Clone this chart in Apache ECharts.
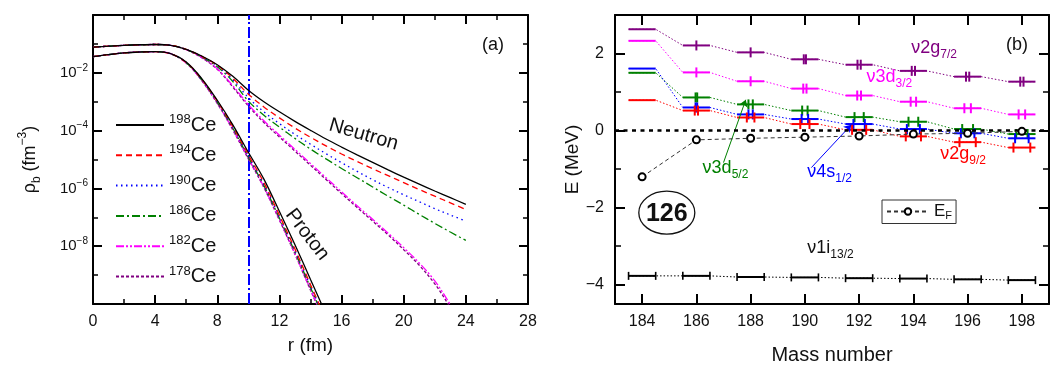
<!DOCTYPE html>
<html>
<head>
<meta charset="utf-8">
<script src="https://cdn.jsdelivr.net/npm/echarts@6/dist/echarts.min.js"></script>
<style>
  html, body { margin: 0; padding: 0; background: #fff; }
  #chart { width: 1059px; height: 365px; }
</style>
</head>
<body>
<div id="chart"></div>
<script>
// ---------- panel (a): density profiles, log10(rho / fm^-3) ----------
const radius = [0,1,2,3,4,5,6,7,8,9,10,11,12,13,14,15,16,17,18,19,20,21,22,23,24];

const neutron198 = [-1.11,-1.08,-1.05,-1.03,-1.02,-1.05,-1.19,-1.42,-1.72,-2.12,-2.60,-3.00,-3.35,-3.68,-3.99,-4.29,-4.57,-4.84,-5.10,-5.36,-5.61,-5.85,-6.09,-6.32,-6.55];
const neutron194 = [-1.11,-1.08,-1.05,-1.03,-1.02,-1.05,-1.19,-1.43,-1.74,-2.19,-2.74,-3.18,-3.56,-3.91,-4.23,-4.53,-4.81,-5.07,-5.32,-5.56,-5.80,-6.04,-6.27,-6.50,-6.73];
const neutron190 = [-1.11,-1.08,-1.05,-1.03,-1.02,-1.05,-1.19,-1.44,-1.76,-2.24,-2.86,-3.35,-3.76,-4.13,-4.47,-4.80,-5.11,-5.41,-5.70,-5.97,-6.22,-6.46,-6.70,-6.92,-7.13];
const neutron186 = [-1.11,-1.08,-1.05,-1.03,-1.02,-1.05,-1.20,-1.45,-1.79,-2.30,-2.98,-3.47,-3.88,-4.27,-4.64,-4.98,-5.31,-5.63,-5.95,-6.27,-6.58,-6.90,-7.21,-7.51,-7.80];
const neutron182 = [-1.11,-1.08,-1.05,-1.03,-1.02,-1.05,-1.20,-1.47,-1.86,-2.45,-3.10,-3.66,-4.16,-4.65,-5.14,-5.63,-6.12,-6.60,-7.07,-7.55,-8.05,-8.58,-9.20,-10.02,-10.90];
const neutron178 = [-1.11,-1.08,-1.05,-1.03,-1.02,-1.05,-1.20,-1.48,-1.88,-2.49,-3.15,-3.72,-4.22,-4.71,-5.20,-5.69,-6.18,-6.66,-7.13,-7.61,-8.12,-8.66,-9.30,-10.12,-11.00];

const proton198 = [-1.44,-1.37,-1.31,-1.28,-1.27,-1.34,-1.63,-2.20,-2.95,-3.80,-4.75,-5.68,-6.80,-7.95,-9.15,-10.35];
const proton194 = [-1.44,-1.37,-1.31,-1.28,-1.27,-1.34,-1.64,-2.22,-2.98,-3.86,-4.84,-5.80,-6.93,-8.10,-9.33,-10.55];
const proton190 = [-1.44,-1.37,-1.31,-1.28,-1.27,-1.34,-1.64,-2.23,-3.00,-3.89,-4.88,-5.85,-6.98,-8.15,-9.38,-10.60];
const proton186 = [-1.44,-1.37,-1.31,-1.28,-1.27,-1.34,-1.65,-2.24,-3.02,-3.92,-4.92,-5.90,-7.03,-8.20,-9.43,-10.66];
const proton182 = [-1.44,-1.37,-1.31,-1.28,-1.27,-1.34,-1.66,-2.26,-3.05,-3.96,-4.96,-5.95,-7.08,-8.26,-9.50,-10.72];
const proton178 = [-1.44,-1.37,-1.31,-1.28,-1.27,-1.34,-1.66,-2.27,-3.06,-3.98,-4.98,-5.97,-7.10,-8.28,-9.52,-10.74];

const isotopes = ['198Ce','194Ce','190Ce','186Ce','182Ce','178Ce'];
const densityTickExponents = [-2,-4,-6,-8];
const cutoffRadius = 10;

// ---------- panel (b): single-particle levels (MeV) ----------
const massNumbers = [184,186,188,190,192,194,196,198];
const energyTicks = [-4,-2,0,2];
const energyMinorTicks = [-3,-1,1];

const e2g72  = [2.63,2.21,2.03,1.85,1.71,1.55,1.40,1.27];
const e3d32  = [2.33,1.51,1.28,1.09,0.91,0.75,0.58,0.42];
const e3d52  = [1.50,0.86,0.68,0.52,0.35,0.23,0.04,-0.09];
const e4s12  = [1.61,0.60,0.42,0.30,0.17,0.04,-0.07,-0.20];
const e2g92  = [0.79,0.52,0.34,0.17,0.02,-0.15,-0.30,-0.44];
const e1i132 = [-3.77,-3.77,-3.80,-3.81,-3.83,-3.84,-3.86,-3.88];
const fermiEnergy = [-1.20,-0.24,-0.20,-0.17,-0.14,-0.09,-0.07,-0.02];

// half-separation (mass units) of the vertical marks on each level; 0 = single mark, null = none
const marks2g72 = [null,0,0,0.04,0.06,0.06,0.06,0.06];
const marks3d32 = [null,0,0,0.06,0.07,0.10,0.12,0.12];
const marks3d52 = [null,0.03,0.08,0.10,0.17,0.18,0.20,0.21];
const marks4s12 = [null,0.03,0.08,0.12,0.21,0.24,0.25,0.25];
const marks2g92 = [null,0.06,0.14,0.17,0.26,0.28,0.30,0.31];

const FONT = '"Liberation Sans", Arial, Helvetica, sans-serif';
const INK = '#111';

const isoStyle = {
  '198Ce': { color: '#000000', type: 'solid' },
  '194Ce': { color: '#ff0000', type: [6, 4] },
  '190Ce': { color: '#0000ff', type: [1.5, 3.5] },
  '186Ce': { color: '#008000', type: [8, 3, 2, 3] },
  '182Ce': { color: '#ff00ff', type: [8, 2, 2, 2, 2, 2] },
  '178Ce': { color: '#800080', type: [3, 2] }
};

const neutronSets = [neutron198, neutron194, neutron190, neutron186, neutron182, neutron178];
const protonSets = [proton198, proton194, proton190, proton186, proton182, proton178];

function profile(values) {
  return values.map((v, i) => [radius[i], v]);
}

const series = [];

isotopes.forEach((name, k) => {
  const st = isoStyle[name];
  const base = {
    name, type: 'line', xAxisIndex: 0, yAxisIndex: 0,
    symbol: 'none', showSymbol: false, smooth: 0.35, clip: true,
    lineStyle: { color: st.color, width: 1.3, type: st.type },
    itemStyle: { color: st.color },
    z: 10 - k
  };
  const neutron = Object.assign({}, base, { data: profile(neutronSets[k]) });
  if (k === 0) {
    neutron.markLine = {
      silent: true, symbol: 'none', label: { show: false },
      lineStyle: { color: '#0000ff', width: 2, type: [11, 3, 2, 3] },
      data: [{ xAxis: cutoffRadius }]
    };
  }
  series.push(neutron);
  series.push(Object.assign({}, base, { data: profile(protonSets[k]) }));
});

// ---------- energy levels ----------
const levels = [
  { e: e2g72, marks: marks2g72, color: '#800080' },
  { e: e3d32, marks: marks3d32, color: '#ff00ff' },
  { e: e3d52, marks: marks3d52, color: '#008000',
    arrow: [[187.0, -0.83], [187.82, 0.80]] },
  { e: e4s12, marks: marks4s12, color: '#0000ff',
    arrow: [[190.24, -0.96], [191.71, 0.15]] },
  { e: e2g92, marks: marks2g92, color: '#ff0000' },
  { e: e1i132, marks: null, color: '#000000', capped: true }
];

function levelRenderer(level) {
  return function (params, api) {
    const A = api.value(0), E = api.value(1);
    const p0 = api.coord([A - 0.5, E]);
    const p1 = api.coord([A + 0.5, E]);
    const children = [{
      type: 'line',
      shape: { x1: p0[0], y1: p0[1], x2: p1[0], y2: p1[1] },
      style: { stroke: level.color, lineWidth: 2 }
    }];
    const tick = (x, y, h, w) => children.push({
      type: 'line', shape: { x1: x, y1: y - h / 2, x2: x, y2: y + h / 2 },
      style: { stroke: level.color, lineWidth: w }
    });
    if (level.capped) {
      tick(p0[0], p0[1], 8, 1.6);
      tick(p1[0], p1[1], 8, 1.6);
    }
    if (level.marks) {
      const d = level.marks[params.dataIndex];
      if (d === 0) {
        tick(api.coord([A, E])[0], p0[1], 10, 2);
      } else if (d != null) {
        tick(api.coord([A - d, E])[0], p0[1], 10, 2);
        tick(api.coord([A + d, E])[0], p0[1], 10, 2);
      }
    }
    return { type: 'group', children };
  };
}

levels.forEach((level) => {
  const zigzag = [];
  massNumbers.forEach((A, i) => { zigzag.push([A - 0.5, level.e[i]], [A + 0.5, level.e[i]]); });
  const link = {
    type: 'line', xAxisIndex: 2, yAxisIndex: 2, data: zigzag,
    symbol: 'none', showSymbol: false, silent: true,
    lineStyle: { color: level.color, width: 1, type: [1.5, 2] },
    z: 3
  };
  if (level.arrow) {
    link.markLine = {
      silent: true, symbol: ['none', 'arrow'], symbolSize: 7,
      label: { show: false },
      lineStyle: { color: level.color, width: 1, type: 'solid' },
      data: [[{ coord: level.arrow[0] }, { coord: level.arrow[1] }]]
    };
  }
  series.push(link);
  series.push({
    type: 'custom', xAxisIndex: 2, yAxisIndex: 2,
    data: massNumbers.map((A, i) => [A, level.e[i]]),
    encode: { x: 0, y: 1 },
    renderItem: levelRenderer(level),
    silent: true, z: 4
  });
});

series.push({
  name: 'EF', type: 'line', xAxisIndex: 2, yAxisIndex: 2,
  data: massNumbers.map((A, i) => [A, fermiEnergy[i]]),
  symbol: 'emptyCircle', symbolSize: 7, showSymbol: true,
  itemStyle: { color: '#000', borderWidth: 1.3 },
  lineStyle: { color: '#333', width: 1, type: [4, 3] },
  z: 6,
  markLine: {
    silent: true, symbol: 'none', label: { show: false },
    lineStyle: { color: '#000', width: 2.5, type: [4, 4.5] },
    data: [{ yAxis: 0 }]
  }
});

// ---------- axes ----------
const axisLine = { onZero: false, lineStyle: { color: '#000', width: 2 } };
const labelStyle = { fontSize: 16, color: INK, fontFamily: FONT };

function densityX(pos) {
  return {
    gridIndex: 0, type: 'value', position: pos, min: 0, max: 28, interval: 4,
    axisLine, splitLine: { show: false },
    axisTick: { inside: true, length: 9, lineStyle: { color: '#000', width: 2 } },
    minorTick: { show: true, splitNumber: 2, length: 5, lineStyle: { color: '#000', width: 1.5 } },
    axisLabel: pos === 'bottom' ? Object.assign({ margin: 10 }, labelStyle) : { show: false },
    name: pos === 'bottom' ? 'r (fm)' : '',
    nameLocation: 'middle', nameGap: 32,
    nameTextStyle: { fontSize: 19, color: INK, fontFamily: FONT }
  };
}
function densityY(pos) {
  return {
    gridIndex: 0, type: 'value', position: pos, min: -10, max: 0, interval: 2,
    axisLine, splitLine: { show: false },
    axisTick: { inside: true, length: 9, lineStyle: { color: '#000', width: 2 } },
    minorTick: { show: true, splitNumber: 2, length: 5, lineStyle: { color: '#000', width: 1.5 } },
    axisLabel: pos === 'left' ? {
      margin: 5, color: INK, fontFamily: FONT,
      formatter: v => densityTickExponents.includes(v) ? '{b|10}{s|\u2212' + (-v) + '}' : '',
      rich: {
        b: { fontSize: 15, lineHeight: 20, fontFamily: FONT, color: INK },
        s: { fontSize: 10, lineHeight: 10, verticalAlign: 'top', fontFamily: FONT, color: INK }
      }
    } : { show: false },
    name: pos === 'left' ? '\u03c1{sb|b} (fm{sp|\u22123})' : '',
    nameLocation: 'middle', nameRotate: 90, nameGap: 50,
    nameTextStyle: {
      fontSize: 18, lineHeight: 26, color: INK, fontFamily: FONT,
      rich: {
        sb: { fontSize: 12, lineHeight: 12, verticalAlign: 'bottom', fontFamily: FONT, color: INK },
        sp: { fontSize: 12, lineHeight: 12, verticalAlign: 'top', fontFamily: FONT, color: INK }
      }
    }
  };
}
function massX(pos) {
  return {
    gridIndex: 1, type: 'value', position: pos, min: 183, max: 199,
    axisLine, splitLine: { show: false },
    axisTick: { inside: true, length: 10, customValues: massNumbers, lineStyle: { color: '#000', width: 2 } },
    axisLabel: pos === 'bottom' ? Object.assign({ margin: 10, customValues: massNumbers }, labelStyle) : { show: false },
    name: pos === 'bottom' ? 'Mass number' : '',
    nameLocation: 'middle', nameGap: 41,
    nameTextStyle: { fontSize: 20, color: INK, fontFamily: FONT }
  };
}
function energyY(pos, minor) {
  const vals = minor ? energyMinorTicks : energyTicks;
  return {
    gridIndex: 1, type: 'value', position: pos, min: -4.5, max: 3,
    axisLine: Object.assign({ show: !minor }, axisLine), splitLine: { show: false },
    axisTick: { inside: true, length: minor ? 6 : 10, customValues: vals,
      lineStyle: { color: '#000', width: minor ? 1.5 : 2 } },
    axisLabel: (pos === 'left' && !minor) ? Object.assign({
      margin: 11, customValues: vals,
      formatter: v => String(v).replace('-', '\u2212')
    }, labelStyle) : { show: false },
    name: (pos === 'left' && !minor) ? 'E (MeV)' : '',
    nameLocation: 'middle', nameRotate: 90, nameGap: 31,
    nameTextStyle: { fontSize: 19, color: INK, fontFamily: FONT }
  };
}

const option = {
  animation: false,
  backgroundColor: '#fff',
  textStyle: { fontFamily: FONT },
  grid: [
    { left: 93, right: 531, top: 15, bottom: 61, outerBoundsMode: 'none', containLabel: false },
    { left: 615, right: 10, top: 15, bottom: 61, outerBoundsMode: 'none', containLabel: false }
  ],
  xAxis: [densityX('bottom'), densityX('top'), massX('bottom'), massX('top')],
  yAxis: [densityY('left'), densityY('right'),
          energyY('left', false), energyY('left', true),
          energyY('right', false), energyY('right', true)],
  legend: [
    {
      data: isotopes, orient: 'vertical', left: 115, top: 113, padding: 0,
      itemWidth: 48, itemHeight: 14, itemGap: 8.3, selectedMode: false,
      itemStyle: { color: 'rgba(0,0,0,0)', borderWidth: 0, opacity: 0 },
      formatter: name => '{sup|' + name.slice(0, 3) + '}{ce|Ce}',
      textStyle: {
        color: INK, fontFamily: FONT, fontSize: 20,
        rich: {
          sup: { fontSize: 13, lineHeight: 12, verticalAlign: 'top', color: INK, fontFamily: FONT },
          ce: { fontSize: 20, lineHeight: 24, color: INK, fontFamily: FONT }
        }
      }
    },
    {
      data: ['EF'], left: 882, top: 200, padding: [3, 4, 2, 4],
      itemWidth: 42, itemHeight: 8, selectedMode: false,
      borderColor: '#333', borderWidth: 1,
      formatter: () => '{e|E}{f|F}',
      textStyle: {
        color: INK, fontFamily: FONT, fontSize: 17,
        rich: {
          e: { fontSize: 17, lineHeight: 20, color: INK, fontFamily: FONT },
          f: { fontSize: 11, lineHeight: 10, verticalAlign: 'bottom', color: INK, fontFamily: FONT }
        }
      }
    }
  ],
  series
};

const chart = echarts.init(document.getElementById('chart'), null, { renderer: 'canvas' });
chart.setOption(option);

// ---------- annotations placed in data coordinates ----------
const inDensity = p => chart.convertToPixel({ xAxisIndex: 0, yAxisIndex: 0 }, p);
const inLevels = p => chart.convertToPixel({ xAxisIndex: 2, yAxisIndex: 2 }, p);

const levelLabels = [
  { main: '\u03bd2g', sub: '7/2', color: '#800080', at: [193.92, 2.14] },
  { main: '\u03bd3d', sub: '3/2', color: '#ff00ff', at: [192.27, 1.39] },
  { main: '\u03bd2g', sub: '9/2', color: '#ff0000', at: [194.99, -0.60] },
  { main: '\u03bd4s', sub: '1/2', color: '#0000ff', at: [190.09, -1.07] },
  { main: '\u03bd3d', sub: '5/2', color: '#008000', at: [186.23, -0.96] },
  { main: '\u03bd1i', sub: '13/2', color: '#111111', at: [190.09, -3.04] }
];

const graphic = [];
function addText(x, y, text, opts) {
  graphic.push(Object.assign({
    type: 'text', x, y, silent: true,
    style: Object.assign({
      text, fill: INK, fontFamily: FONT, fontSize: 18,
      align: 'center', verticalAlign: 'middle',
      textAlign: 'center', textVerticalAlign: 'middle'
    }, opts.style || {})
  }, opts.el || {}));
}

levelLabels.forEach(l => {
  const p = inLevels(l.at);
  addText(p[0], p[1], '{m|' + l.main + '}{s|' + l.sub + '}', {
    style: {
      fill: l.color, align: 'left', textAlign: 'left',
      rich: {
        m: { fontSize: 18, lineHeight: 26, fill: l.color, fontFamily: FONT },
        s: { fontSize: 12, lineHeight: 12, verticalAlign: 'bottom', fill: l.color, fontFamily: FONT }
      }
    }
  });
});

const magic = inLevels([184.91, -2.13]);
graphic.push({
  type: 'ellipse', silent: true,
  shape: { cx: magic[0], cy: magic[1], rx: 28, ry: 21.5 },
  style: { fill: 'none', stroke: '#111', lineWidth: 1.3 }
});
addText(magic[0], magic[1] + 1, '126', { style: { fontSize: 25, fontWeight: 'bold' } });

const neutronAt = inDensity([17.42, -4.14]);
addText(neutronAt[0], neutronAt[1], 'Neutron', { style: { fontSize: 20 }, el: { rotation: -0.28 } });
const protonAt = inDensity([13.79, -7.6]);
addText(protonAt[0], protonAt[1], 'Proton', { style: { fontSize: 20 }, el: { rotation: -0.92 } });

addText(493, 45, '(a)', { style: { fontSize: 18 } });
addText(1017, 45, '(b)', { style: { fontSize: 18 } });

chart.setOption({ graphic });
</script>
</body>
</html>
